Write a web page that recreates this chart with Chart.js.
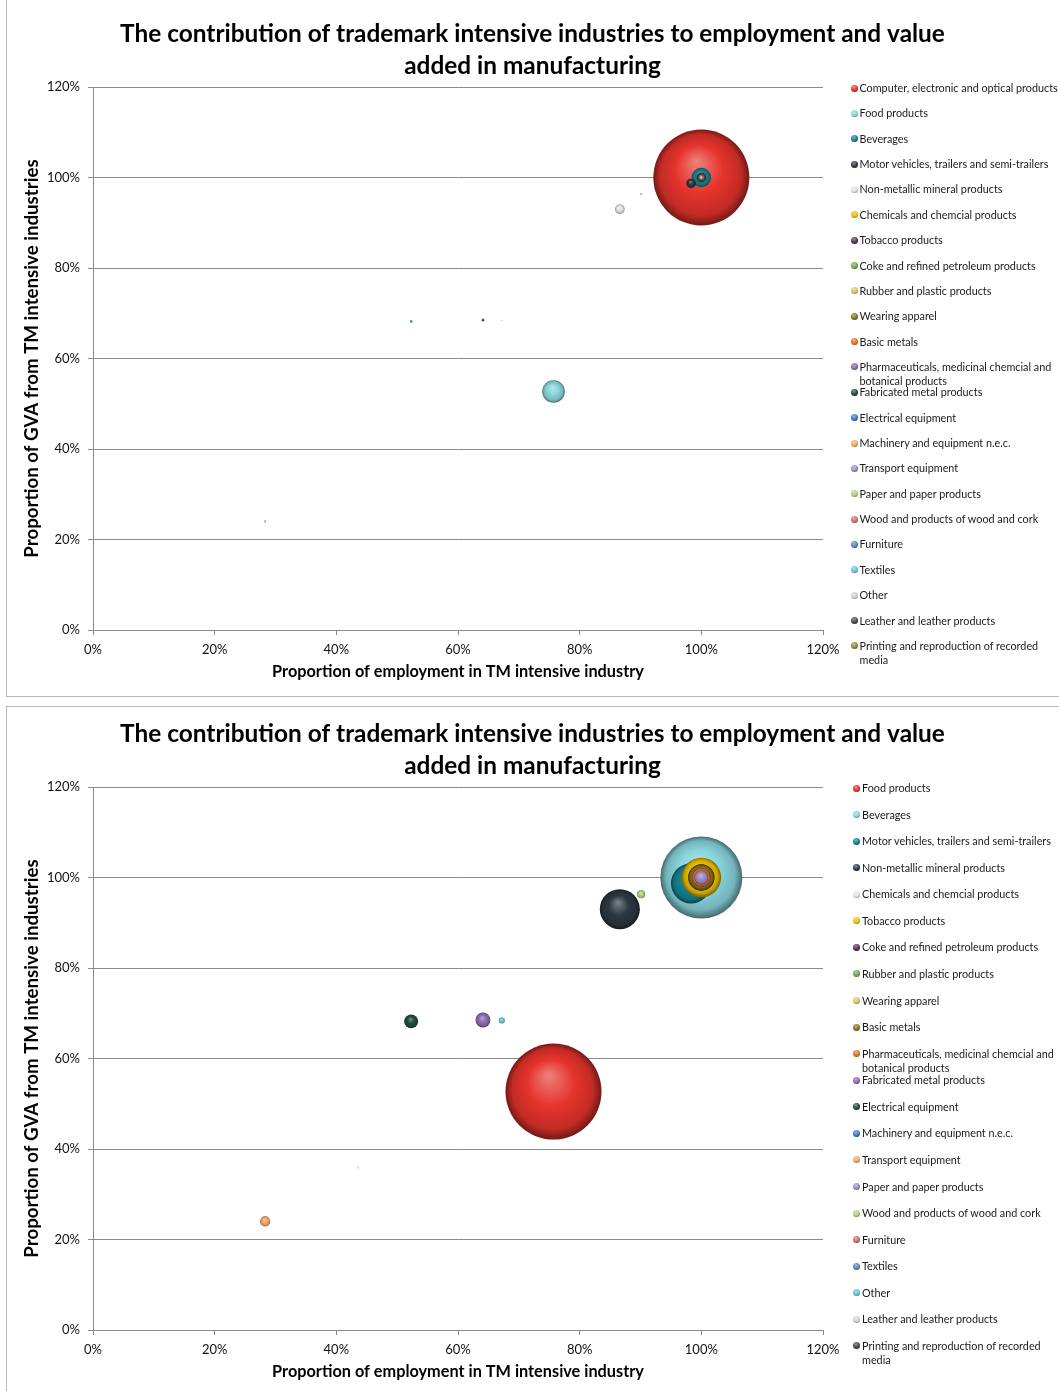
<!DOCTYPE html>
<html>
<head>
<meta charset="utf-8">
<script src="https://cdn.jsdelivr.net/npm/chart.js@4.4.1/dist/chart.umd.min.js"></script>
<style>
  html, body { margin: 0; padding: 0; background: #fff; width: 1059px; height: 1391px; overflow: hidden; }
  .frame { position: absolute; border: 1px solid #b8b8b8; box-sizing: border-box; }
  canvas.plot { position: absolute; left: 7px; }
  .legend { position: absolute; font-family: Lato, "Open Sans", sans-serif; font-size: 10.8px; color: #1a1a1a; }
  .legend .item { position: absolute; left: 0; width: 204px; line-height: 14px; }
  .legend .ball { position: absolute; width: 7px; height: 7px; border-radius: 50%; }
</style>
</head>
<body>
<div class="frame" style="left:6px; top:-10px; width:1070px; height:707px;"></div>
<div class="frame" style="left:6px; top:706px; width:1070px; height:720px;"></div>
<canvas id="chartAll" class="plot" width="1051" height="696" style="top:0px;"></canvas>
<canvas id="chartExComputer" class="plot" width="1051" height="696" style="top:700px;"></canvas>
<div id="legendAll" class="legend" style="left:851px; top:0px;"></div>
<div id="legendExComputer" class="legend" style="left:853px; top:700px;"></div>

<script>
// ---- Chart text ----
const chartTitle = [
  'The contribution of trademark intensive industries to employment and value',
  'added in manufacturing'
];
const xAxisTitle = 'Proportion of employment in TM intensive industry';
const yAxisTitle = 'Proportion of GVA from TM intensive industries';
const axisTicks = [0, 20, 40, 60, 80, 100, 120];

// ---- Manufacturing industries ----
const industries = [
  'Computer, electronic and optical products',
  'Food products',
  'Beverages',
  'Motor vehicles, trailers and semi-trailers',
  'Non-metallic mineral products',
  'Chemicals and chemcial products',
  'Tobacco products',
  'Coke and refined petroleum products',
  'Rubber and plastic products',
  'Wearing apparel',
  'Basic metals',
  'Pharmaceuticals, medicinal chemcial and botanical products',
  'Fabricated metal products',
  'Electrical equipment',
  'Machinery and equipment n.e.c.',
  'Transport equipment',
  'Paper and paper products',
  'Wood and products of wood and cork',
  'Furniture',
  'Textiles',
  'Other',
  'Leather and leather products',
  'Printing and reproduction of recorded media'
];

// Share of the industry's employment in TM intensive firms (%)
const employmentShare = [100, 75.7, 100, 98.3, 86.6, 100, 100, 100, null, null, 100, 100,
  64.1, 52.3, 100, 28.3, 100, 90.1, null, null, 67.2, 43.6, null];

// Share of the industry's GVA from TM intensive firms (%)
const gvaShare = [100, 52.7, 100, 98.7, 93.0, 100, 100, 100, null, null, 100, 100,
  68.5, 68.2, 100, 24.0, 100, 96.3, null, null, 68.4, 35.9, null];

// Bubble size (relative weight of the industry)
const bubbleSize = [1800, 100, 73, 17.4, 17.4, 14, 17, 7.5, null, null, 7.3, 3.9,
  2.4, 2.1, 1.6, 1.1, 2.1, 0.7, null, null, 0.4, 0.04, null];

// Second chart leaves out computer, electronic and optical products
const excludedInSecond = ['Computer, electronic and optical products'];

// ---- Styling ----
const palette = ['#e5332c', '#88d4db', '#128291', '#2b3743', '#dfe3df', '#f1c100',
  '#5e2b52', '#6cab50', '#dcc660', '#8b7427', '#e8741f', '#8c6bb1', '#1f4c3f',
  '#3f78c8', '#f2a862', '#9d8ccb', '#b2ce86', '#d46a6a', '#5b86bd', '#6cc4d8',
  '#d3d3d3', '#4a4a4a', '#9a8a3a'];
const MAX_RADIUS = 48;
const FONT = 'Lato, "Open Sans", sans-serif';
const GRID = '#8a8a8a';

function shade(hex, amt) {
  const n = parseInt(hex.slice(1), 16);
  let r = n >> 16, g = (n >> 8) & 255, b = n & 255;
  const t = amt < 0 ? 0 : 255, p = Math.abs(amt);
  r = Math.round((t - r) * p + r);
  g = Math.round((t - g) * p + g);
  b = Math.round((t - b) * p + b);
  return 'rgb(' + r + ',' + g + ',' + b + ')';
}

// Shaded sphere look for each bubble
function sphereFill(ctx, colors) {
  const base = colors[ctx.dataIndex] || '#999999';
  if (ctx.type !== 'data' || !ctx.raw) return base;
  const sx = ctx.chart.scales.x, sy = ctx.chart.scales.y;
  if (!sx || !sy) return base;
  const cx = sx.getPixelForValue(ctx.raw.x);
  const cy = sy.getPixelForValue(ctx.raw.y);
  const r = Math.max(ctx.raw.r, 0.5);
  if (!isFinite(cx) || !isFinite(cy) || !isFinite(r)) return base;
  const g = ctx.chart.ctx.createRadialGradient(cx - 0.1 * r, cy - 0.35 * r, 0, cx, cy, r);
  g.addColorStop(0, shade(base, 0.38));
  g.addColorStop(0.5, base);
  g.addColorStop(0.84, shade(base, -0.15));
  g.addColorStop(1, shade(base, -0.5));
  return g;
}

// Bubbles (in series order) plus the colour of each, skipping industries without data
function buildSeries(names) {
  const sizes = names.map(n => bubbleSize[industries.indexOf(n)]).filter(v => v != null);
  const maxSize = Math.max.apply(null, sizes);
  const points = [], colors = [];
  names.forEach((n, k) => {
    const i = industries.indexOf(n);
    if (employmentShare[i] == null) return;
    points.push({ x: employmentShare[i], y: gvaShare[i], r: MAX_RADIUS * Math.sqrt(bubbleSize[i] / maxSize) });
    colors.push(palette[k]);
  });
  return { points, colors };
}

function tickFont() { return { family: FONT, size: 13 }; }

function buildChart(canvasId, names) {
  const series = buildSeries(names);
  return new Chart(document.getElementById(canvasId), {
    type: 'bubble',
    data: {
      datasets: [{
        label: 'Industries',
        data: series.points,
        backgroundColor: c => sphereFill(c, series.colors),
        borderWidth: 0,
        hoverBorderWidth: 0,
        pointStyle: c => (c.raw && c.raw.r < 2.2 ? 'rect' : 'circle')
      }]
    },
    options: {
      responsive: false,
      animation: false,
      events: [],
      layout: { padding: 0 },
      plugins: {
        legend: { display: false },
        tooltip: { enabled: false },
        title: {
          display: true,
          text: chartTitle,
          color: '#000',
          font: { family: FONT, size: 24.4, weight: 'bold', lineHeight: 32 / 24.4 },
          padding: { top: 18, bottom: 5 }
        }
      },
      scales: {
        x: {
          type: 'linear',
          min: axisTicks[0],
          max: axisTicks[axisTicks.length - 1],
          afterBuildTicks: s => { s.ticks = axisTicks.map(v => ({ value: v })); },
          afterFit: s => { s.height = 66; },
          ticks: { callback: v => v + '%', font: tickFont(), color: '#111', padding: 7, maxRotation: 0 },
          grid: { drawOnChartArea: false, color: GRID, tickLength: 5 },
          border: { color: GRID },
          title: { display: true, text: xAxisTitle, color: '#000', font: { family: FONT, size: 16.3, weight: 'bold' }, padding: { top: 0, bottom: 14 } }
        },
        y: {
          type: 'linear',
          min: axisTicks[0],
          max: axisTicks[axisTicks.length - 1],
          afterBuildTicks: s => { s.ticks = axisTicks.map(v => ({ value: v })); },
          afterFit: s => { s.width = 86; },
          ticks: { callback: v => v + '%', font: tickFont(), color: '#111', padding: 8 },
          grid: { color: GRID, tickLength: 5 },
          border: { color: GRID },
          title: { display: true, text: yAxisTitle, color: '#000', font: { family: FONT, size: 18.7, weight: 'bold' }, padding: { top: 14, bottom: 0 } }
        },
        // empty band on the right that holds the legend column
        legendBand: {
          type: 'linear',
          position: 'right',
          display: true,
          grid: { display: false },
          border: { display: false },
          ticks: { display: false },
          afterFit: s => { s.width = 235; }
        }
      }
    }
  });
}

function buildLegend(elId, names, firstCenter, pitch, textLeft) {
  const host = document.getElementById(elId);
  names.forEach((name, i) => {
    const base = palette[i];
    const item = document.createElement('div');
    item.className = 'item';
    item.style.top = (firstCenter + i * pitch - 7) + 'px';
    item.style.paddingLeft = textLeft + 'px';
    const ball = document.createElement('span');
    ball.className = 'ball';
    ball.style.left = '0px';
    ball.style.top = '3.5px';
    ball.style.background = 'radial-gradient(circle at 42% 32%, ' + shade(base, 0.45) + ' 0%, ' +
      base + ' 50%, ' + shade(base, -0.55) + ' 100%)';
    item.appendChild(ball);
    item.appendChild(document.createTextNode(name));
    host.appendChild(item);
  });
}

const namesAll = industries.slice();
const namesSecond = industries.filter(n => excludedInSecond.indexOf(n) < 0);

buildChart('chartAll', namesAll);
buildChart('chartExComputer', namesSecond);
buildLegend('legendAll', namesAll, 88, 25.36, 8.5);
buildLegend('legendExComputer', namesSecond, 88, 26.57, 9);
</script>
</body>
</html>
